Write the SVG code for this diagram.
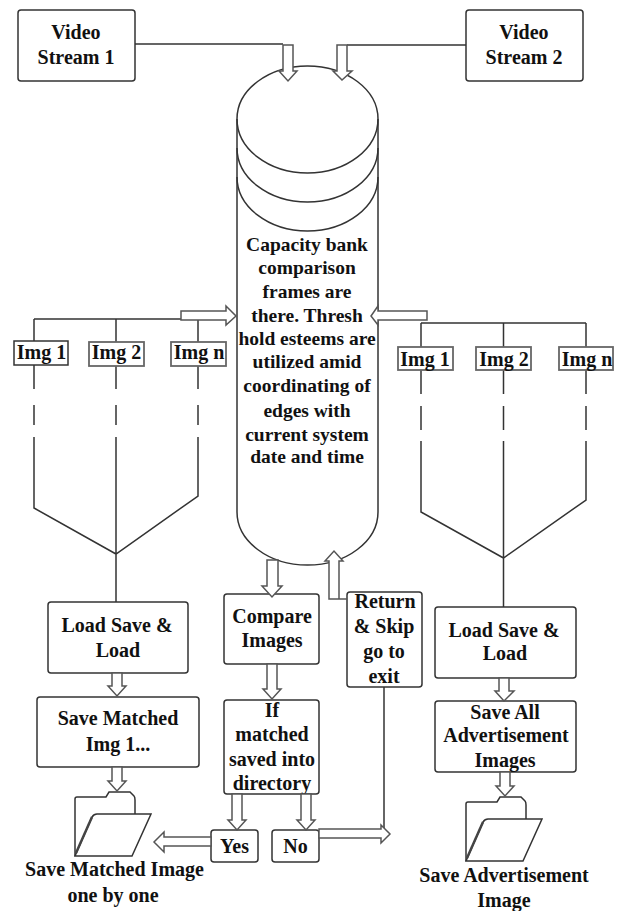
<svg xmlns="http://www.w3.org/2000/svg" width="621" height="911" viewBox="0 0 621 911">
<style>
text{font-family:"Liberation Serif","Times New Roman",serif;font-weight:bold;font-size:20px;fill:#111;text-anchor:middle}
.c text{font-size:19.5px}
.b{fill:#fff;stroke:#333;stroke-width:1.5}
.g{fill:#fff;stroke:#666;stroke-width:1.8}
.l{fill:none;stroke:#333;stroke-width:1.5}
.t{fill:none;stroke:#444;stroke-width:2.5}
.a{fill:#fff;stroke:#555;stroke-width:1.5}
</style>
<defs>
<g id="folder">
<path class="l" d="M0 65V8Q0 6 2 6H31L34 1H55L59 5Q60 6 60 9V23"/>
<path class="b" d="M0 65L17 26Q19 23 22 23H76L57 65Z"/>
<path class="t" d="M1 62L17 26"/>
</g>
</defs>
<g id="connectors">
<path class="l" d="M135 44H283M347 45H466"/>
<path class="l" d="M34 319H181M34 319V389M34 405V425M34 437V508L116 554L198 496V437M198 425V405M198 389V319M116 319V389M116 405V425M116 437V602"/>
<path class="l" d="M421 323H586M421 323V394M421 406V430M421 441V512L503.500 558L586 500V441M586 430V406M586 394V323M503.500 323V394M503.500 406V430M503.500 441V607"/>
<path class="l" d="M384 687V830"/>
</g>
<g id="cylinder" class="c">
<path class="b" d="M237 119A70.500 53 0 0 1 378 119V512A70.500 53 0 0 1 237 512Z"/>
<path class="l" d="M237 119A70.500 54 0 0 0 378 119M237 148A70.500 54 0 0 0 378 148M237 177A70.500 54 0 0 0 378 177"/>
<text x="307" y="251">Capacity bank</text>
<text x="307" y="274">comparison</text>
<text x="307" y="298">frames are</text>
<text x="307" y="322">there. Thresh</text>
<text x="307" y="345">hold esteems are</text>
<text x="307" y="368">utilized amid</text>
<text x="307" y="392">coordinating of</text>
<text x="307" y="417">edges with</text>
<text x="307" y="441">current system</text>
<text x="307" y="463">date and time</text>
</g>
<g id="video1"><rect class="b" x="18" y="10" width="117" height="71" rx="3"/><text x="76" y="39">Video</text><text x="76" y="64">Stream 1</text></g>
<g id="video2"><rect class="b" x="466" y="10" width="117" height="71" rx="3"/><text x="524" y="39">Video</text><text x="524" y="64">Stream 2</text></g>
<g id="img1l"><rect class="b" x="14" y="341" width="54" height="24"/><text x="41.500" y="359">Img 1</text></g>
<g id="img2l"><rect class="g" x="89" y="342" width="55" height="24"/><text x="116.500" y="359">Img 2</text></g>
<g id="imgnl"><rect class="g" x="171" y="342" width="55" height="24"/><text x="199" y="359">Img n</text></g>
<g id="img1r"><rect class="g" x="398" y="347" width="55" height="23"/><text x="425" y="366">Img 1</text></g>
<g id="img2r"><rect class="g" x="476" y="347" width="55" height="23"/><text x="504" y="366">Img 2</text></g>
<g id="imgnr"><rect class="g" x="559" y="347" width="54" height="23"/><text x="587" y="366">Img n</text></g>
<g id="load1"><rect class="b" x="48" y="602" width="140" height="71" rx="3"/><text x="117" y="632">Load Save &amp;</text><text x="118" y="657">Load</text></g>
<g id="saved1"><rect class="b" x="37" y="697" width="162" height="70" rx="3"/><text x="118" y="725">Save Matched</text><text x="118" y="751">Img 1...</text></g>
<g id="compare"><rect class="b" x="224" y="594" width="95" height="70" rx="3"/><text x="272" y="623">Compare</text><text x="272" y="647">Images</text></g>
<g id="ifmatched"><rect class="b" x="224" y="700" width="95" height="94" rx="3"/><text x="272" y="717">If</text><text x="272" y="741">matched</text><text x="272" y="766">saved into</text><text x="272" y="790">directory</text></g>
<g id="yes"><rect class="b" x="211" y="830" width="47" height="32" rx="3"/><text x="234.500" y="853">Yes</text></g>
<g id="no"><rect class="b" x="272" y="830" width="47" height="32" rx="3"/><text x="295.500" y="853">No</text></g>
<g id="return"><rect class="b" x="347" y="592" width="75" height="95" rx="3"/><text x="385" y="608">Return</text><text x="384" y="633">&amp; Skip</text><text x="384" y="658">go to</text><text x="384" y="683">exit</text></g>
<g id="load2"><rect class="b" x="435" y="607" width="141" height="71" rx="3"/><text x="504" y="637">Load Save &amp;</text><text x="505" y="660">Load</text></g>
<g id="saveall"><rect class="b" x="435" y="701" width="141" height="71" rx="3"/><text x="505" y="719">Save All</text><text x="506" y="742">Advertisement</text><text x="505" y="767">Images</text></g>
<g id="folder1"><use href="#folder" x="75" y="791"/><text x="114.500" y="876">Save Matched Image</text><text x="113" y="902">one by one</text></g>
<g id="folder2"><use href="#folder" x="466" y="796"/><text x="504" y="882">Save Advertisement</text><text x="504" y="907">Image</text></g>
<g id="arrows">
<path class="a" d="M283 45H293V71H297L288 81L279 71H283Z"/>
<path class="a" d="M337 45H347V71H352L342 80L333 71H337Z"/>
<path class="a" d="M181 311H226V306L236 316L226 325V320H181Z"/>
<path class="a" d="M427 311H378V306L371 316L378 325V320H427Z"/>
<path class="a" d="M112 673H122V686H126L117 696L108 686H112Z"/>
<path class="a" d="M112 767H122V781H126L117 791L108 781H112Z"/>
<path class="a" d="M267 664H277V689H281L272 699L263 689H267Z"/>
<path class="a" d="M232 794H242V820H246L237 830L228 820H232Z"/>
<path class="a" d="M301 794H311V820H315L306 830L297 820H301Z"/>
<path class="a" d="M211 837H164V832L154 842L164 852V846H211Z"/>
<path class="a" d="M319 829H381V825L390 834L381 843V838H319Z"/>
<path class="a" d="M347 599H329V561H325L334 551L343 561H339V599"/>
<path class="a" d="M267 560H278V586H282L272 597L262 586H267Z"/>
<path class="a" d="M499 678H509V691H514L504 701L495 691H499Z"/>
<path class="a" d="M500 772H510V786H514L505 796L496 786H500Z"/>
</g>
</svg>
